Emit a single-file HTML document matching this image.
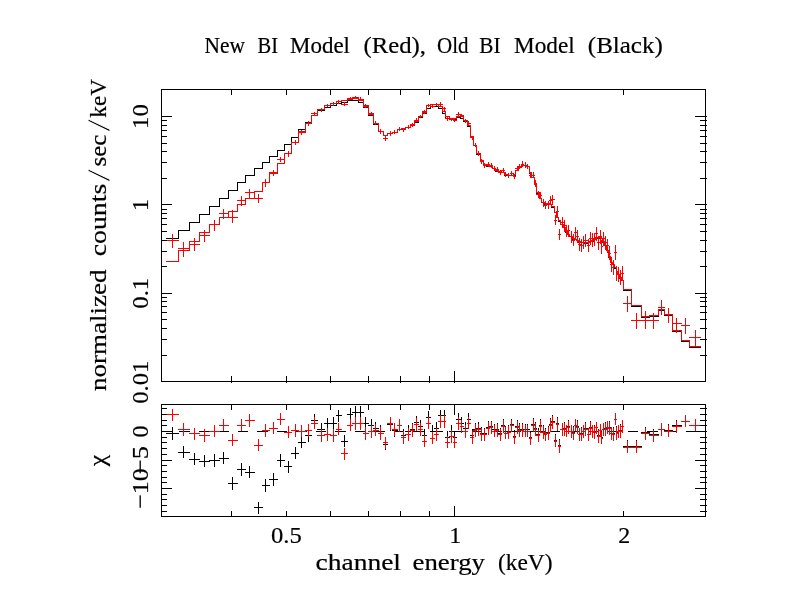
<!DOCTYPE html>
<html lang="en">
<head>
<meta charset="utf-8">
<title>New BI Model (Red), Old BI Model (Black)</title>
<style>
html,body{margin:0;padding:0;background:#fff;}
body{width:792px;height:612px;overflow:hidden;}
svg{display:block;}
text{font-family:"Liberation Serif","DejaVu Serif",serif;font-size:24px;fill:#000;stroke:#000;stroke-width:0.2px;}
text.sl{font-family:"Liberation Mono",monospace;font-size:29.3px;stroke:#fff;stroke-width:1px;}
.k{stroke:#000;} .r{stroke:#f00;}
path{fill:none;stroke-width:1;shape-rendering:crispEdges;}
</style>
</head>
<body>
<svg width="792" height="612" viewBox="0 0 792 612">
<rect width="792" height="612" fill="#fff"/>
<g id="labels">
<text x="204.5" y="53" textLength="40.5" lengthAdjust="spacingAndGlyphs">New</text>
<text x="257.5" y="53" textLength="20.5" lengthAdjust="spacingAndGlyphs">BI</text>
<text x="290" y="53" textLength="60" lengthAdjust="spacingAndGlyphs">Model</text>
<text x="363.5" y="53" textLength="62.5" lengthAdjust="spacingAndGlyphs">(Red),</text>
<text x="437" y="53" textLength="31.5" lengthAdjust="spacingAndGlyphs">Old</text>
<text x="479.3" y="53" textLength="21.2" lengthAdjust="spacingAndGlyphs">BI</text>
<text x="514" y="53" textLength="60.7" lengthAdjust="spacingAndGlyphs">Model</text>
<text x="587.8" y="53" textLength="75.0" lengthAdjust="spacingAndGlyphs">(Black)</text>
<text x="271" y="543" textLength="30.75" lengthAdjust="spacingAndGlyphs">0.5</text>
<text x="455.3" y="543" text-anchor="middle">1</text>
<text x="624.3" y="543" text-anchor="middle">2</text>
<text x="315.5" y="570" textLength="85.5" lengthAdjust="spacingAndGlyphs">channel</text>
<text x="412.5" y="570" textLength="72.5" lengthAdjust="spacingAndGlyphs">energy</text>
<text x="498" y="570" textLength="54.5" lengthAdjust="spacingAndGlyphs">(keV)</text>
<text x="106" y="391" textLength="121.5" lengthAdjust="spacingAndGlyphs" transform="rotate(-90 106 391)">normalized</text>
<text x="106" y="256.3" textLength="72.5" lengthAdjust="spacingAndGlyphs" transform="rotate(-90 106 256.3)">counts</text>
<text x="106" y="166.5" textLength="32" lengthAdjust="spacingAndGlyphs" transform="rotate(-90 106 166.5)">sec</text>
<text x="106" y="117.7" textLength="38.7" lengthAdjust="spacingAndGlyphs" transform="rotate(-90 106 117.7)">keV</text>
<text class="sl" x="109.7" y="183.25" textLength="15.8" lengthAdjust="spacingAndGlyphs" transform="rotate(-90 109.7 183.25)">/</text>
<text class="sl" x="109.7" y="133.25" textLength="15.8" lengthAdjust="spacingAndGlyphs" transform="rotate(-90 109.7 133.25)">/</text>
<text x="148" y="128.9" textLength="24.6" lengthAdjust="spacingAndGlyphs" transform="rotate(-90 148 128.9)">10</text>
<text x="148" y="205.0" text-anchor="middle" transform="rotate(-90 148 205.0)">1</text>
<text x="148" y="308.675" textLength="30.75" lengthAdjust="spacingAndGlyphs" transform="rotate(-90 148 308.675)">0.1</text>
<text x="148" y="403.8" textLength="43" lengthAdjust="spacingAndGlyphs" transform="rotate(-90 148 403.8)">0.01</text>
<text x="148" y="431.5" text-anchor="middle" transform="rotate(-90 148 431.5)">0</text>
<text x="148" y="474.15" textLength="28.3" lengthAdjust="spacingAndGlyphs" transform="rotate(-90 148 474.15)">−5</text>
<text x="148" y="508.8" textLength="40.6" lengthAdjust="spacingAndGlyphs" transform="rotate(-90 148 508.8)">−10</text>
<text x="105.4" y="466.2" textLength="11.4" lengthAdjust="spacingAndGlyphs" transform="rotate(-90 105.4 466.2)" font-size="22.5">χ</text>
</g>
<path class="k" d="M166 238.5H179M178.5 230V239M178 230.5H190M189.5 222V231M189 222.5H200M199.5 214V223M199 214.5H210M209.5 206V215M209 206.5H220M219.5 198V207M219 198.5H229M228.5 190V199M228 190.5H238M237.5 182V191M237 182.5H246M245.5 175V183M245 175.5H255M254.5 168V176M254 168.5H263M262.5 162V169M262 162.5H270M269.5 156V163M269 156.5H278M277.5 150V157M277 150.5H285M284.5 144V151M284 144.5H292M291.5 137V145M291 137.5H299M298.5 129V138M298 129.5H306M305.5 122V130M305 122.5H312M311.5 115V123M311 115.5H318M317.5 110V116M317 110.5H325M324.5 107V111M324 107.5H331M330.5 105V108M330 105.5H337M336.5 103V106M336 103.5H342M341.5 102V104M341 102.5H348M347.5 100V103M347 100.5H353M352.5 100V101M352 100.5H359M358.5 100V103M358 102.5H364M363.5 102V108M363 107.5H369M368.5 107V116M368 115.5H374M373.5 115V125M373 124.5H379M378.5 124V132M378 131.5H384M383.5 131V136M383 135.5H388M387.5 133V136M387 133.5H393M392.5 132V134M392 132.5H398M397.5 129V133M397 129.5H402M401.5 128V130M401 128.5H406M405.5 127V129M405 127.5H411M410.5 125V128M410 125.5H415M414.5 122V126M414 122.5H419M418.5 117V123M418 117.5H423M422.5 113V118M422 113.5H427M426.5 108V114M426 108.5H431M430.5 106V109M430 106.5H435M434.5 106V107M434 106.5H439M438.5 106V109M438 108.5H443M442.5 108V114M442 113.5H446M445.5 113V119M445 118.5H450M449.5 118V120M449 119.5H454M453.5 119V120M453 119.5H457M456.5 117V120M456 117.5H461M460.5 117V119M460 118.5H464M463.5 118V122M463 121.5H468M467.5 121V127M467 126.5H471M470.5 126V138M470 137.5H474M473.5 137V146M473 145.5H477M476.5 145V155M476 154.5H481M480.5 154V161M480 160.5H484M483.5 160V165M483 164.5H487M486.5 164V167M486 166.5H490M489.5 166V167M489 166.5H493M492.5 166V169M492 168.5H496M495.5 168V172M495 171.5H499M498.5 171V172M498 171.5H502M501.5 171V173M501 172.5H505M504.5 172V176M504 175.5H508M507.5 175V176M507 175.5H511M510.5 175V176M510 175.5H514M513.5 175V176M513 175.5H516M515.5 170V176M515 170.5H519M518.5 167V171M518 167.5H522M521.5 165V168M521 165.5H524M523.5 165V166M523 165.5H527M526.5 165V167M526 166.5H530M529.5 166V174M529 173.5H532M531.5 173V178M531 177.5H535M534.5 177V185M534 184.5H537M536.5 184V194M536 193.5H540M539.5 193V199M539 198.5H542M541.5 198V203M541 202.5H545M544.5 202V205M544 204.5H547M546.5 203V205M546 203.5H550M549.5 203V205M549 204.5H552M551.5 204V208M551 207.5H555M554.5 207V213M554 212.5H557M556.5 212V218M556 217.5H559M558.5 217V222M558 221.5H561M560.5 221V225M560 224.5H564M563.5 224V228M563 227.5H566M565.5 227V233M565 232.5H568M567.5 232V235M567 234.5H570M569.5 234V237M569 236.5H573M572.5 236V240M572 239.5H575M574.5 239V240M574 239.5H577M576.5 239V241M576 240.5H579M578.5 240V243M578 242.5H581M580.5 242V243M580 242.5H583M582.5 242V243M582 242.5H585M584.5 242V244M584 243.5H588M587.5 242V244M587 242.5H590M589.5 241V243M589 241.5H592M591.5 241V242M591 241.5H594M593.5 238V242M593 238.5H596M595.5 237V239M595 237.5H598M597.5 237V239M597 238.5H600M599.5 237V239M599 237.5H602M601.5 237V239M601 238.5H603M602.5 238V243M602 242.5H605M604.5 242V246M604 245.5H607M606.5 245V251M606 250.5H609M608.5 250V258M608 257.5H611M610.5 257V263M610 262.5H613M612.5 262V265M612 264.5H615M614.5 264V269M614 268.5H617M616.5 268V272M616 271.5H618M617.5 271V275M617 274.5H620M619.5 274V279M619 278.5H622M621.5 278V281M621 280.5H624M623.5 280V291M623 290.5H632M631.5 290V307M631 306.5H642M641.5 306V318M641 317.5H650M649.5 316V318M649 316.5H659M658.5 310V317M658 310.5H665M664.5 310V316M664 315.5H673M672.5 315V332M672 331.5H682M681.5 331V342M681 341.5H690M689.5 341V348M689 347.5H701M166 433.5H179M172.5 427V440M178 452.5H190M183.5 446V458M189 459.5H200M194.5 453V465M199 461.5H210M204.5 455V467M209 460.5H220M214.5 454V467M219 458.5H229M223.5 452V464M228 483.5H238M232.5 477V490M237 469.5H246M241.5 463V476M245 472.5H255M249.5 466V478M254 507.5H263M258.5 502V514M262 485.5H270M265.5 479V492M269 479.5H278M273.5 473V486M277 460.5H285M280.5 454V467M284 466.5H292M288.5 461V473M291 453.5H299M295.5 447V459M298 442.5H306M301.5 436V448M305 435.5H312M308.5 429V442M311 420.5H318M314.5 414V427M317 429.5H325M321.5 423V435M324 423.5H331M327.5 418V430M330 423.5H337M333.5 417V429M336 415.5H342M338.5 410V422M341 441.5H348M344.5 435V447M347 414.5H353M350.5 408V420M352 412.5H359M355.5 406V418M358 412.5H364M360.5 406V418M363 423.5H369M365.5 417V430M368 425.5H374M371.5 419V431M373 428.5H379M375.5 422V435M378 431.5H384M380.5 425V438M383 444.5H388M385.5 438V450M387 424.5H393M390.5 418V431M392 430.5H398M394.5 424V437M397 425.5H402M399.5 419V432M401 435.5H406M403.5 429V442M405 431.5H411M408.5 425V438M410 429.5H415M412.5 423V435M414 422.5H419M416.5 416V429M418 426.5H423M420.5 420V433M422 435.5H427M424.5 429V442M426 417.5H431M428.5 411V424M430 431.5H435M432.5 425V438M434 428.5H439M436.5 422V435M438 415.5H443M440.5 410V422M442 415.5H446M444.5 410V422M445 437.5H450M447.5 431V444M449 431.5H454M451.5 425V438M453 437.5H457M454.5 431V444M456 419.5H461M458.5 413V425M460 423.5H464M461.5 417V429M463 428.5H468M465.5 422V435M467 419.5H471M468.5 413V425M470 435.5H474M472.5 429V442M473 429.5H477M475.5 423V435M476 428.5H481M478.5 422V435M480 433.5H484M481.5 427V439M483 433.5H487M484.5 428V440M486 427.5H490M488.5 421V433M489 426.5H493M491.5 421V433M492 429.5H496M494.5 424V436M495 429.5H499M497.5 423V435M498 433.5H502M500.5 428V440M501 425.5H505M503.5 419V432M504 431.5H508M505.5 426V438M507 431.5H511M508.5 425V437M510 424.5H514M511.5 419V431M513 436.5H516M514.5 430V443M515 426.5H519M517.5 420V433M518 429.5H522M519.5 423V435M521 429.5H524M522.5 423V435M523 429.5H527M525.5 424V436M526 429.5H530M527.5 424V436M529 437.5H532M530.5 431V444M531 424.5H535M533.5 418V431M534 428.5H537M535.5 422V434M536 434.5H540M538.5 428V441M539 425.5H542M540.5 419V432M541 431.5H545M543.5 425V437M544 433.5H547M545.5 428V440M546 432.5H550M548.5 426V438M549 424.5H552M550.5 418V431M551 421.5H555M552.5 415V428M554 440.5H557M555.5 434V446M556 423.5H559M557.5 417V430M558 445.5H561M559.5 439V452M560 429.5H564M562.5 423V436M563 428.5H566M564.5 422V435M565 431.5H568M566.5 425V437M567 426.5H570M568.5 420V433M569 431.5H573M571.5 425V438M572 432.5H575M573.5 426V439M574 425.5H577M575.5 419V431M576 426.5H579M577.5 420V433M578 434.5H581M579.5 428V441M580 433.5H583M581.5 427V440M582 431.5H585M583.5 425V438M584 428.5H588M585.5 422V435M587 434.5H590M588.5 428V441M589 427.5H592M590.5 421V434M591 431.5H594M592.5 425V438M593 431.5H596M594.5 425V438M595 427.5H598M596.5 422V434M597 435.5H600M598.5 429V442M599 430.5H602M600.5 424V437M601 437.5H603M601.5 431V443M602 429.5H605M603.5 423V436M604 428.5H607M605.5 422V435M606 427.5H609M607.5 421V434M608 427.5H611M609.5 421V434M610 433.5H613M611.5 427V440M612 433.5H615M613.5 427V440M614 419.5H617M615.5 413V425M616 432.5H618M616.5 426V439M617 431.5H620M618.5 425V438M619 430.5H622M620.5 424V437M621 426.5H624M622.5 420V433M623 446.5H632M627.5 440V452M631 446.5H642M636.5 440V452M641 432.5H650M645.5 427V439M649 434.5H659M653.5 429V441M658 429.5H665M661.5 423V436M664 430.5H673M668.5 424V436M672 425.5H682M676.5 420V432M681 421.5H690M685.5 415V427M689 425.5H701M695.5 419V432M161 431.5H170M179 431.5H190M199 431.5H209M218 431.5H229M238 431.5H248M257 431.5H268M277 431.5H287M296 431.5H307M316 431.5H326M335 431.5H346M355 431.5H365M374 431.5H385M394 431.5H404M413 431.5H424M433 431.5H443M452 431.5H463M472 431.5H482M491 431.5H502M511 431.5H521M530 431.5H541M550 431.5H560M569 431.5H580M589 431.5H599M608 431.5H619M628 431.5H638M647 431.5H658M667 431.5H677M686 431.5H697"/>
<path class="r" d="M166 261.5H179M178.5 250V262M178 250.5H190M189.5 241V251M189 241.5H200M199.5 232V242M199 232.5H210M209.5 224V233M209 224.5H220M219.5 217V225M219 217.5H229M228.5 211V218M228 211.5H238M237.5 204V212M237 204.5H246M245.5 198V205M245 198.5H255M254.5 191V199M254 191.5H263M262.5 182V192M262 182.5H270M269.5 172V183M269 172.5H278M277.5 163V173M277 163.5H285M284.5 153V164M284 153.5H292M291.5 142V154M291 142.5H299M298.5 131V143M298 131.5H306M305.5 123V132M305 123.5H312M311.5 115V124M311 115.5H318M317.5 109V116M317 109.5H325M324.5 105V110M324 105.5H331M330.5 103V106M330 103.5H337M336.5 101V104M336 101.5H342M341.5 100V102M341 100.5H348M347.5 98V101M347 98.5H353M352.5 97V99M352 97.5H359M358.5 97V100M358 99.5H364M363.5 99V106M363 105.5H369M368.5 105V115M368 114.5H374M373.5 114V124M373 123.5H379M378.5 123V132M378 131.5H384M383.5 131V136M383 135.5H388M387.5 133V136M387 133.5H393M392.5 132V134M392 132.5H398M397.5 129V133M397 129.5H402M401.5 128V130M401 128.5H406M405.5 127V129M405 127.5H411M410.5 125V128M410 125.5H415M414.5 121V126M414 121.5H419M418.5 116V122M418 116.5H423M422.5 111V117M422 111.5H427M426.5 105V112M426 105.5H431M430.5 104V106M430 104.5H435M434.5 104V105M434 104.5H439M438.5 104V107M438 106.5H443M442.5 106V112M442 111.5H446M445.5 111V117M445 116.5H450M449.5 116V119M449 118.5H454M453.5 118V119M453 118.5H457M456.5 116V119M456 116.5H461M460.5 116V117M460 116.5H464M463.5 116V121M463 120.5H468M467.5 120V126M467 125.5H471M470.5 125V137M470 136.5H474M473.5 136V146M473 145.5H477M476.5 145V154M476 153.5H481M480.5 153V161M480 160.5H484M483.5 160V165M483 164.5H487M486.5 164V166M486 165.5H490M489.5 165V167M489 166.5H493M492.5 166V169M492 168.5H496M495.5 168V171M495 170.5H499M498.5 170V172M498 171.5H502M501.5 171V173M501 172.5H505M504.5 172V175M504 174.5H508M507.5 174V176M507 175.5H511M510.5 175V176M510 175.5H514M513.5 174V176M513 174.5H516M515.5 170V175M515 170.5H519M518.5 167V171M518 167.5H522M521.5 164V168M521 164.5H524M523.5 164V166M523 165.5H527M526.5 165V167M526 166.5H530M529.5 166V173M529 172.5H532M531.5 172V178M531 177.5H535M534.5 177V185M534 184.5H537M536.5 184V193M536 192.5H540M539.5 192V199M539 198.5H542M541.5 198V203M541 202.5H545M544.5 202V204M544 203.5H547M546.5 203V204M546 203.5H550M549.5 203V205M549 204.5H552M551.5 204V207M551 206.5H555M554.5 206V213M554 212.5H557M556.5 212V218M556 217.5H559M558.5 217V221M558 220.5H561M560.5 220V225M560 224.5H564M563.5 224V228M563 227.5H566M565.5 227V232M565 231.5H568M567.5 231V235M567 234.5H570M569.5 234V237M569 236.5H573M572.5 236V239M572 238.5H575M574.5 238V240M574 239.5H577M576.5 239V241M576 240.5H579M578.5 240V242M578 241.5H581M580.5 241V243M580 242.5H583M582.5 242V243M582 242.5H585M584.5 242V243M584 242.5H588M587.5 242V243M587 242.5H590M589.5 241V243M589 241.5H592M591.5 240V242M591 240.5H594M593.5 238V241M593 238.5H596M595.5 237V239M595 237.5H598M597.5 237V238M597 237.5H600M599.5 237V238M599 237.5H602M601.5 237V239M601 238.5H603M602.5 238V242M602 241.5H605M604.5 241V246M604 245.5H607M606.5 245V251M606 250.5H609M608.5 250V257M608 256.5H611M610.5 256V263M610 262.5H613M612.5 262V265M612 264.5H615M614.5 264V268M614 267.5H617M616.5 267V272M616 271.5H618M617.5 271V275M617 274.5H620M619.5 274V278M619 277.5H622M621.5 277V281M621 280.5H624M623.5 280V290M623 289.5H632M631.5 289V306M631 305.5H642M641.5 305V317M641 316.5H650M649.5 315V317M649 315.5H659M658.5 309V316M658 309.5H665M664.5 309V315M664 314.5H673M672.5 314V331M672 330.5H682M681.5 330V341M681 340.5H690M689.5 340V347M689 346.5H701M166 240.5H179M172.5 234V248M166 414.5H179M172.5 409V421M178 248.5H190M183.5 242V257M178 429.5H190M183.5 423V436M189 244.5H200M194.5 238V251M189 433.5H200M194.5 428V440M199 235.5H210M204.5 230V242M199 435.5H210M204.5 429V442M209 224.5H220M214.5 220V231M209 431.5H220M214.5 425V437M219 213.5H229M223.5 209V219M219 425.5H229M223.5 419V431M228 217.5H238M232.5 210V223M228 440.5H238M232.5 434V446M237 200.5H246M241.5 196V206M237 425.5H246M241.5 419V431M245 192.5H255M249.5 189V198M245 420.5H255M249.5 414V427M254 198.5H263M258.5 194V203M254 445.5H263M258.5 439V451M262 182.5H270M265.5 179V187M262 430.5H270M265.5 424V437M269 173.5H278M273.5 170V176M269 428.5H278M273.5 422V434M277 159.5H285M280.5 157V162M277 419.5H285M280.5 413V425M284 153.5H292M288.5 151V157M284 432.5H292M288.5 426V438M291 142.5H299M295.5 140V145M291 430.5H299M295.5 424V437M298 132.5H306M301.5 130V135M298 431.5H306M301.5 425V437M305 123.5H312M308.5 121V126M305 430.5H312M308.5 424V437M311 113.5H318M314.5 112V116M311 423.5H318M314.5 417V429M317 109.5H325M321.5 108V112M317 435.5H325M321.5 429V442M324 105.5H331M327.5 104V107M324 434.5H331M327.5 428V441M330 103.5H337M333.5 102V106M330 435.5H337M333.5 429V442M336 101.5H342M338.5 100V104M336 429.5H342M338.5 423V435M341 104.5H348M344.5 102V106M341 453.5H348M344.5 448V460M347 99.5H353M350.5 97V100M347 425.5H353M350.5 419V431M352 98.5H359M355.5 96V99M352 423.5H359M355.5 417V430M358 100.5H364M360.5 97V101M358 423.5H364M360.5 417V430M363 106.5H369M365.5 104V108M363 433.5H369M365.5 427V440M368 113.5H374M371.5 112V115M368 431.5H374M371.5 425V438M373 123.5H379M375.5 121V125M373 430.5H379M375.5 424V436M378 131.5H384M380.5 129V134M378 433.5H384M380.5 427V440M383 138.5H388M385.5 136V141M383 442.5H388M385.5 437V449M387 133.5H393M390.5 131V136M387 423.5H393M390.5 417V430M392 132.5H398M394.5 130V134M392 429.5H398M394.5 423V436M397 129.5H402M399.5 127V131M397 425.5H402M399.5 419V432M401 129.5H406M403.5 128V132M401 437.5H406M403.5 431V444M405 127.5H411M408.5 125V129M405 434.5H411M408.5 428V441M410 124.5H415M412.5 123V127M410 430.5H415M412.5 424V437M414 120.5H419M416.5 118V122M414 424.5H419M416.5 418V431M418 116.5H423M420.5 115V118M418 429.5H423M420.5 423V436M422 112.5H427M424.5 110V114M422 441.5H427M424.5 435V447M426 105.5H431M428.5 104V107M426 423.5H431M428.5 417V429M430 106.5H435M432.5 104V108M430 438.5H435M432.5 432V444M434 104.5H439M436.5 103V106M434 434.5H439M436.5 428V441M438 104.5H443M440.5 102V106M438 421.5H443M440.5 415V428M442 108.5H446M444.5 107V111M442 421.5H446M444.5 415V428M445 118.5H450M447.5 117V121M445 442.5H450M447.5 436V448M449 119.5H454M451.5 118V121M449 436.5H454M451.5 430V443M453 120.5H457M454.5 119V122M453 442.5H457M454.5 436V448M456 114.5H461M458.5 112V116M456 423.5H461M458.5 417V430M460 115.5H464M461.5 114V117M460 426.5H464M461.5 420V433M463 120.5H468M465.5 119V123M463 431.5H468M465.5 425V438M467 123.5H471M468.5 121V125M467 423.5H471M468.5 417V429M470 137.5H474M472.5 136V140M470 437.5H474M472.5 431V444M473 145.5H477M475.5 143V147M473 430.5H477M475.5 424V437M476 153.5H481M478.5 151V156M476 429.5H481M478.5 424V436M480 161.5H484M481.5 159V164M480 434.5H484M481.5 428V441M483 165.5H487M484.5 163V168M483 434.5H487M484.5 429V441M486 164.5H490M488.5 162V167M486 428.5H490M488.5 422V435M489 165.5H493M491.5 163V168M489 427.5H493M491.5 422V434M492 168.5H496M494.5 166V171M492 431.5H496M494.5 425V437M495 169.5H499M497.5 167V172M495 430.5H499M497.5 424V437M498 172.5H502M500.5 170V175M498 434.5H502M500.5 429V441M501 170.5H505M503.5 168V173M501 426.5H505M503.5 420V433M504 174.5H508M505.5 172V177M504 433.5H508M505.5 427V439M507 175.5H511M508.5 173V178M507 432.5H511M508.5 426V439M510 173.5H514M511.5 171V176M510 425.5H514M511.5 420V432M513 176.5H516M514.5 174V179M513 437.5H516M514.5 432V444M515 168.5H519M517.5 166V171M515 427.5H519M517.5 421V434M518 166.5H522M519.5 164V169M518 430.5H522M519.5 424V437M521 164.5H524M522.5 161V167M521 430.5H524M522.5 424V437M523 165.5H527M525.5 162V168M523 431.5H527M525.5 425V437M526 166.5H530M527.5 164V169M526 431.5H530M527.5 425V437M529 175.5H532M530.5 172V178M529 438.5H532M530.5 433V445M531 175.5H535M533.5 172V178M531 425.5H535M533.5 419V432M534 183.5H537M535.5 180V187M534 429.5H537M535.5 423V436M536 194.5H540M538.5 191V198M536 435.5H540M538.5 430V442M539 195.5H542M540.5 192V199M539 426.5H542M540.5 420V433M541 202.5H545M543.5 199V207M541 432.5H545M543.5 426V439M544 205.5H547M545.5 201V209M544 434.5H547M545.5 429V441M546 204.5H550M548.5 201V209M546 433.5H550M548.5 427V440M549 200.5H552M550.5 196V205M549 425.5H552M550.5 419V432M551 199.5H555M552.5 195V205M551 422.5H555M552.5 416V429M554 220.5H557M555.5 215V225M554 441.5H557M555.5 435V447M556 211.5H559M557.5 206V217M556 424.5H559M557.5 418V431M558 234.5H561M559.5 229V240M558 446.5H561M559.5 440V453M560 222.5H564M562.5 217V228M560 429.5H564M562.5 423V436M563 225.5H566M564.5 220V232M563 429.5H566M564.5 423V436M565 231.5H568M566.5 225V237M565 431.5H568M566.5 425V437M567 230.5H570M568.5 225V237M567 427.5H570M568.5 421V434M569 236.5H573M571.5 231V243M569 431.5H573M571.5 425V438M572 240.5H575M573.5 234V246M572 433.5H575M573.5 427V440M574 232.5H577M575.5 227V239M574 425.5H577M575.5 419V431M576 236.5H579M577.5 230V243M576 427.5H579M577.5 421V434M578 244.5H581M579.5 238V251M578 434.5H581M579.5 428V441M580 245.5H583M581.5 239V252M580 434.5H583M581.5 428V441M582 242.5H585M583.5 236V249M582 431.5H585M583.5 425V438M584 240.5H588M585.5 234V247M584 429.5H588M585.5 423V436M587 245.5H590M588.5 239V252M587 434.5H590M588.5 428V441M589 238.5H592M590.5 232V245M589 428.5H592M590.5 422V435M591 240.5H594M592.5 233V247M591 431.5H594M592.5 425V438M593 239.5H596M594.5 233V246M593 432.5H596M594.5 426V439M595 233.5H598M596.5 227V241M595 427.5H598M596.5 422V434M597 242.5H600M598.5 236V250M597 436.5H600M598.5 430V443M599 236.5H602M600.5 230V244M599 430.5H602M600.5 424V437M601 246.5H603M601.5 240V254M601 438.5H603M601.5 432V444M602 238.5H605M603.5 232V246M602 429.5H605M603.5 423V436M604 242.5H607M605.5 236V250M604 429.5H607M605.5 423V436M606 245.5H609M607.5 239V253M606 427.5H609M607.5 421V434M608 253.5H611M609.5 246V260M608 428.5H611M609.5 422V435M610 264.5H613M611.5 257V272M610 433.5H613M611.5 427V440M612 267.5H615M613.5 260V275M612 434.5H615M613.5 428V441M614 252.5H617M615.5 245V260M614 419.5H617M615.5 413V425M616 273.5H618M616.5 266V281M616 433.5H618M616.5 427V440M617 274.5H620M618.5 267V282M617 431.5H620M618.5 425V438M619 277.5H622M620.5 270V285M619 431.5H622M620.5 425V438M621 273.5H624M622.5 266V281M621 426.5H624M622.5 420V433M623 303.5H632M627.5 296V312M623 447.5H632M627.5 441V453M631 320.5H642M636.5 313V329M631 447.5H642M636.5 441V453M641 320.5H650M645.5 311V329M641 433.5H650M645.5 428V440M649 320.5H659M653.5 313V329M649 435.5H659M653.5 430V442M658 307.5H665M661.5 300V315M658 429.5H665M661.5 423V436M664 314.5H673M668.5 308V323M664 431.5H673M668.5 425V437M672 323.5H682M676.5 318V333M672 426.5H682M676.5 421V433M681 325.5H690M685.5 318V334M681 421.5H690M685.5 415V427M689 337.5H701M695.5 330V347M689 425.5H701M695.5 419V432"/>
<path class="k" d="M161 89.5H706M161 381.5H706M161.5 89V382M705.5 89V382M161 404.5H706M161 516.5H706M161.5 404V517M705.5 404V517M231.5 376V383M231.5 89V95M231.5 511V517M231.5 404V410M286.5 376V383M286.5 89V95M286.5 511V517M286.5 404V410M330.5 376V383M330.5 89V95M330.5 511V517M330.5 404V410M368.5 376V383M368.5 89V95M368.5 511V517M368.5 404V410M400.5 376V383M400.5 89V95M400.5 511V517M400.5 404V410M429.5 376V383M429.5 89V95M429.5 511V517M429.5 404V410M454.5 371V383M454.5 89V100M454.5 506V517M454.5 404V415M623.5 376V383M623.5 89V95M623.5 511V517M623.5 404V410M161 355.5H167M700 355.5H707M161 339.5H167M700 339.5H707M161 328.5H167M700 328.5H707M161 319.5H167M700 319.5H707M161 312.5H167M700 312.5H707M161 306.5H167M700 306.5H707M161 301.5H167M700 301.5H707M161 297.5H167M700 297.5H707M161 293.5H172M695 293.5H707M161 266.5H167M700 266.5H707M161 251.5H167M700 251.5H707M161 240.5H167M700 240.5H707M161 231.5H167M700 231.5H707M161 224.5H167M700 224.5H707M161 218.5H167M700 218.5H707M161 213.5H167M700 213.5H707M161 209.5H167M700 209.5H707M161 204.5H172M695 204.5H707M161 178.5H167M700 178.5H707M161 162.5H167M700 162.5H707M161 151.5H167M700 151.5H707M161 143.5H167M700 143.5H707M161 136.5H167M700 136.5H707M161 130.5H167M700 130.5H707M161 125.5H167M700 125.5H707M161 120.5H167M700 120.5H707M161 116.5H172M695 116.5H707M161 511.5H167M700 511.5H707M161 505.5H167M700 505.5H707M161 499.5H167M700 499.5H707M161 494.5H167M700 494.5H707M161 488.5H172M695 488.5H707M161 482.5H167M700 482.5H707M161 477.5H167M700 477.5H707M161 471.5H167M700 471.5H707M161 465.5H167M700 465.5H707M161 460.5H172M695 460.5H707M161 454.5H167M700 454.5H707M161 448.5H167M700 448.5H707M161 442.5H167M700 442.5H707M161 437.5H167M700 437.5H707M161 431.5H172M695 431.5H707M161 425.5H167M700 425.5H707M161 420.5H167M700 420.5H707M161 414.5H167M700 414.5H707M161 408.5H167M700 408.5H707"/>
</svg>
</body>
</html>
